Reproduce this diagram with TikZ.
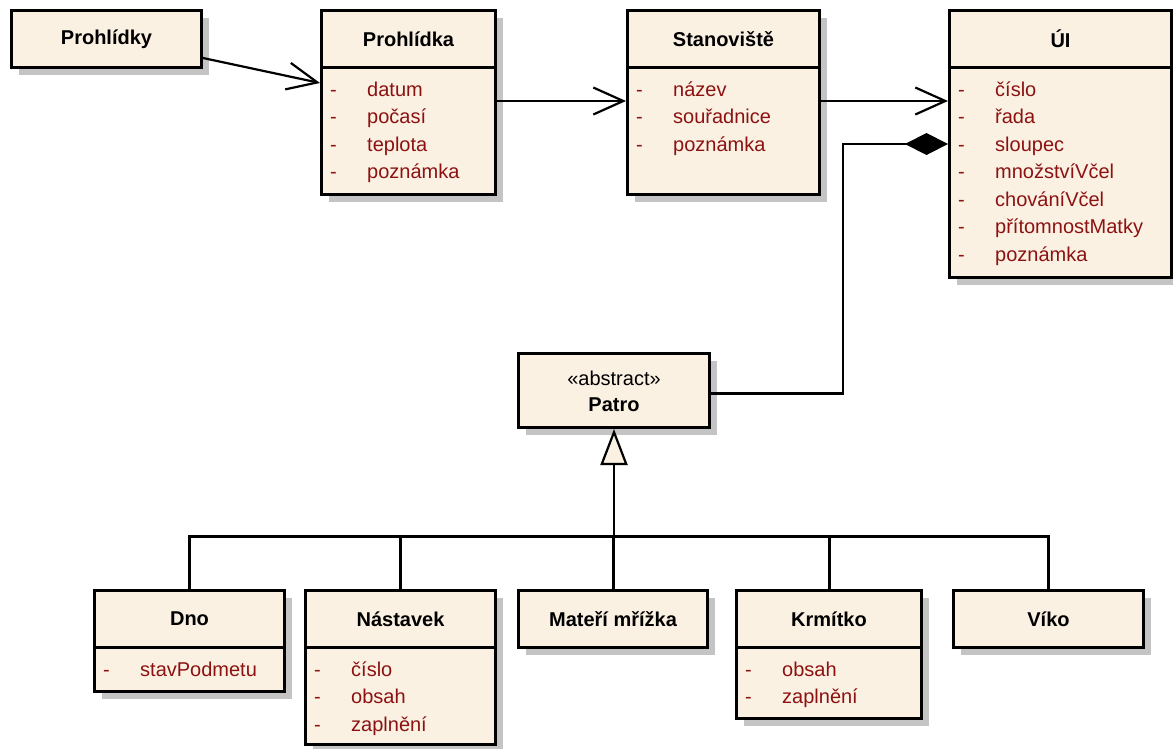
\documentclass[tikz,border=0pt]{standalone}
\usepackage{fontspec}
\setmainfont{Liberation Sans}
\usetikzlibrary{arrows.meta,calc,shadows}
\definecolor{classfill}{RGB}{251,241,227}
\definecolor{attrred}{RGB}{140,18,18}
\definecolor{shadowgray}{RGB}{196,196,196}

% attribute rows of a class box: #1 = box name, #2 = attribute list
\newcommand\classattrs[2]{%
  \foreach \t [count=\i] in {#2} {%
    \node[attrdash] (#1-d\i) at ($(#1.north west)+(10,{58+29+27.5*(\i-1)})$) {-};
    \node[attrtext] (#1-a\i) at ($(#1.north west)+(47,{58+29+27.5*(\i-1)})$) {\t};
  }}
% header separator of a class box
\newcommand\classsep[1]{%
  \draw[sepline] ($(#1.north west)+(0,58)$) -- ($(#1.north east)+(0,58)$);}

\begin{document}
\begin{tikzpicture}[x=1pt,y=-1pt,
  cls/.style={draw=black, line width=3pt, fill=classfill, rectangle, inner sep=0pt,
    anchor=north west, font=\fontsize{20}{24}\selectfont\bfseries,
    drop shadow={shadow xshift=7pt, shadow yshift=-7pt, fill=shadowgray, opacity=1}},
  title/.style={font=\fontsize{20}{24}\selectfont\bfseries, inner sep=0pt},
  attrdash/.style={anchor=base west, inner sep=0pt, text=attrred, font=\fontsize{20}{24}\selectfont},
  attrtext/.style={anchor=base west, inner sep=0pt, text=attrred, font=\fontsize{20}{24}\selectfont},
  sepline/.style={line width=3pt},
  conn/.style={draw=black, line width=2.2pt},
  tree/.style={draw=black, line width=3pt},
  nav/.style={conn, -{Straight Barb[length=30pt, width=27pt, line width=2.2pt]}},
  comp/.style={conn, {Diamond[length=43pt, width=22pt, fill=black]}-},
  gen/.style={conn, -{Triangle[length=36pt, width=27pt, fill=classfill, line width=2.2pt]}}
]
\useasboundingbox (0,0) rectangle (1173,748);

% ---- upper row ----
\node[cls, minimum width=190pt, minimum height=57pt] (prohlidky) at (10,9) {Prohlídky};

\node[cls, minimum width=174pt, minimum height=184pt] (prohlidka) at (320,9) {};
\node[title] (prohlidka-t) at ($(prohlidka.north)+(0,30)$) {Prohlídka};
\classsep{prohlidka}
\classattrs{prohlidka}{datum,počasí,teplota,poznámka}

\node[cls, minimum width=192pt, minimum height=184pt] (stanoviste) at (626,9) {};
\node[title] (stanoviste-t) at ($(stanoviste.north)+(0,30)$) {Stanoviště};
\classsep{stanoviste}
\classattrs{stanoviste}{název,souřadnice,poznámka}

\node[cls, minimum width=222pt, minimum height=267pt] (ui) at (948,9) {};
\node[title] (ui-t) at ($(ui.north)+(0,30)$) {ÚI};
\classsep{ui}
\classattrs{ui}{číslo,řada,sloupec,množstvíVčel,chováníVčel,přítomnostMatky,poznámka}

% ---- abstract floor ----
\node[cls, minimum width=191pt, minimum height=74pt] (patro) at (517,352) {};
\node[inner sep=0pt, font=\fontsize{20}{24}\selectfont] (patro-s) at ($(patro.north)+(0,26)$) {«abstract»};
\node[title] (patro-t) at ($(patro.north)+(0,53)$) {Patro};

% ---- lower row ----
\node[cls, minimum width=190pt, minimum height=101pt] (dno) at (93,589) {};
\node[title] (dno-t) at ($(dno.north)+(0,30)$) {Dno};
\classsep{dno}
\classattrs{dno}{stavPodmetu}

\node[cls, minimum width=190pt, minimum height=154pt] (nastavek) at (304,589) {};
\node[title] (nastavek-t) at ($(nastavek.north)+(0,30)$) {Nástavek};
\classsep{nastavek}
\classattrs{nastavek}{číslo,obsah,zaplnění}

\node[cls, minimum width=189pt, minimum height=57pt] (materi) at (517,589) {Mateří mřížka};

\node[cls, minimum width=185pt, minimum height=128pt] (krmitko) at (735,589) {};
\node[title] (krmitko-t) at ($(krmitko.north)+(0,30)$) {Krmítko};
\classsep{krmitko}
\classattrs{krmitko}{obsah,zaplnění}

\node[cls, minimum width=190pt, minimum height=57pt] (viko) at (952,589) {Víko};

% ---- associations ----
\draw[nav] ($(prohlidky.north east)+(0,49)$) -- ($(prohlidka.north west)+(0,74)$);
\draw[nav] ($(prohlidka.north east)+(0,92)$) -- ($(stanoviste.north west)+(0,92)$);
\draw[nav] ($(stanoviste.north east)+(0,92)$) -- ($(ui.north west)+(0,92)$);

% ---- composition ÚI <>-- Patro ----
\draw[comp] ($(ui.north west)+(0,135)$) -- ++(-105,0) |- ($(patro.east)+(0,3)$);

% ---- generalization ----
\coordinate (bus) at (611,536);
\draw[tree, line cap=rect] (dno.north |- bus) -- (viko.north |- bus);
\draw[tree] (dno.north) -- (dno.north |- bus);
\draw[tree] (nastavek.north) -- (nastavek.north |- bus);
\draw[tree] (materi.north) -- (materi.north |- bus);
\draw[tree] (krmitko.north) -- (krmitko.north |- bus);
\draw[tree] (viko.north) -- (viko.north |- bus);
\draw[gen] (patro.south |- bus) -- (patro.south);
\end{tikzpicture}
\end{document}
